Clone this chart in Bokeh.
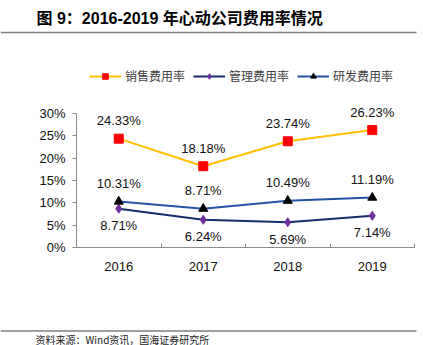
from bokeh.plotting import figure
from bokeh.models import (Range1d, LinearAxis, FixedTicker, PrintfTickFormatter,
                          CustomJSTickFormatter, ColumnDataSource, LabelSet, Label,
                          Legend, LegendItem)
from bokeh.core.properties import value
from bokeh.embed import file_html
from bokeh.resources import INLINE

# ---- data ----
years = ["2016", "2017", "2018", "2019"]
sales_rate = [24.33, 18.18, 23.74, 26.23]
admin_rate = [8.71, 6.24, 5.69, 7.14]
rd_rate = [10.31, 8.71, 10.49, 11.19]
y_ticks = [0, 5, 10, 15, 20, 25, 30]
series_names = ["销售费用率", "管理费用率", "研发费用率"]
title_text = "图 9：2016-2019 年心动公司费用率情况"
source_text = "资料来源：Wind资讯，国海证券研究所"

# ---- layout geometry (pixels) ----
W, H = 423, 345
X0_PX, X_UNIT = 76.0, 84.5      # pixel of category-axis start, pixels per category
Y0_PX, Y_UNIT = 247.3, 4.487    # pixel of 0%, pixels per 1%

def px_x(px):
    return (px - X0_PX) / X_UNIT

def px_y(py):
    return (Y0_PX - py) / Y_UNIT

p = figure(width=W, height=H, output_backend="svg", toolbar_location=None,
           x_range=Range1d(px_x(0), px_x(W)), y_range=Range1d(px_y(H), px_y(0)),
           x_axis_location=None, y_axis_location=None,
           min_border=0, min_border_left=0, min_border_right=0,
           min_border_top=0, min_border_bottom=0)
p.grid.visible = False
p.outline_line_color = None
p.background_fill_color = "white"
p.border_fill_color = "white"

NUM_FONT = "Liberation Sans"
CJK_FONT = "Noto Sans CJK SC"
AXIS_GREY = "#8c8c8c"

n = len(years)
xs = [i + 0.5 for i in range(n)]

# y axis
yax = LinearAxis(fixed_location=0, bounds=(y_ticks[0], y_ticks[-1]),
                 ticker=FixedTicker(ticks=y_ticks, minor_ticks=[]),
                 formatter=PrintfTickFormatter(format="%d%%"))
yax.axis_line_color = AXIS_GREY
yax.major_tick_line_color = AXIS_GREY
yax.major_tick_out = 4
yax.major_tick_in = 0
yax.minor_tick_line_color = None
yax.major_label_text_font = NUM_FONT
yax.major_label_text_font_size = "13px"
yax.major_label_text_color = "#111111"
yax.major_label_standoff = 7
p.add_layout(yax, "left")

# x axis: boundary ticks
xax = LinearAxis(fixed_location=0, bounds=(0, n),
                 ticker=FixedTicker(ticks=list(range(n + 1)), minor_ticks=[]))
xax.axis_line_color = AXIS_GREY
xax.major_tick_line_color = AXIS_GREY
xax.major_tick_in = 4
xax.major_tick_out = 0
xax.minor_tick_line_color = None
xax.major_label_text_alpha = 0
xax.major_label_text_font_size = "1px"
p.add_layout(xax, "below")

# x axis: category labels
xlab = LinearAxis(fixed_location=0,
                  ticker=FixedTicker(ticks=xs, minor_ticks=[]),
                  formatter=CustomJSTickFormatter(args=dict(cats=years),
                                                  code="return cats[Math.floor(tick)];"))
xlab.axis_line_color = None
xlab.major_tick_line_color = None
xlab.minor_tick_line_color = None
xlab.major_label_text_font = NUM_FONT
xlab.major_label_text_font_size = "13px"
xlab.major_label_text_color = "#111111"
xlab.major_label_standoff = 8
p.add_layout(xlab, "below")

# series
def fmt(vals):
    return ["%.2f%%" % v for v in vals]

src_s = ColumnDataSource(dict(x=xs, y=sales_rate, t=fmt(sales_rate)))
src_a = ColumnDataSource(dict(x=xs, y=admin_rate, t=fmt(admin_rate)))
src_r = ColumnDataSource(dict(x=xs, y=rd_rate, t=fmt(rd_rate)))

l_s = p.line("x", "y", source=src_s, line_color="#FFC000", line_width=2)
m_s = p.scatter("x", "y", source=src_s, marker="square", size=9,
                fill_color="#FF0000", line_color="#FF0000")
l_a = p.line("x", "y", source=src_a, line_color="#172d6b", line_width=2)
m_a = p.scatter("x", "y", source=src_a, marker="diamond", size=9,
                fill_color="#7030A0", line_color="#7030A0")
l_r = p.line("x", "y", source=src_r, line_color="#2452a8", line_width=2)
m_r = p.scatter("x", "y", source=src_r, marker="triangle", size=9,
                fill_color="#000000", line_color="#000000")

for src, off in ((src_s, 18), (src_r, 18), (src_a, -17)):
    p.add_layout(LabelSet(x="x", y="y", text="t", source=src, y_offset=off,
                          text_align="center", text_baseline="middle",
                          text_font=value(NUM_FONT), text_font_size="13px",
                          text_color="#111111"))

legend = Legend(items=[LegendItem(label=series_names[0], renderers=[l_s, m_s]),
                       LegendItem(label=series_names[1], renderers=[l_a, m_a]),
                       LegendItem(label=series_names[2], renderers=[l_r, m_r])],
                orientation="horizontal", location=(89, H - 84),
                glyph_width=32, glyph_height=14, label_height=14,
                label_standoff=4, spacing=8, padding=0, margin=0,
                border_line_color=None, background_fill_alpha=0,
                label_text_font=CJK_FONT, label_text_font_size="12px",
                label_text_color="#404040")
p.add_layout(legend, "center")

# title, rules, source
p.add_layout(Label(x=px_x(36), y=px_y(18), text=title_text,
                   text_font="Liberation Sans, Noto Sans CJK SC",
                   text_font_style="bold", text_font_size="16px",
                   text_baseline="middle", text_color="#000000"))
p.segment(x0=[px_x(0)], y0=[px_y(32)], x1=[px_x(416)], y1=[px_y(32)],
          line_color="#7f7f7f", line_width=1.5)
p.segment(x0=[px_x(0)], y0=[px_y(330.5)], x1=[px_x(416)], y1=[px_y(330.5)],
          line_color="#404040", line_width=1.2)
p.add_layout(Label(x=px_x(35), y=px_y(338.5), text=source_text,
                   text_font=CJK_FONT, text_font_size="10px",
                   text_baseline="middle", text_color="#222222"))

open("out.html", "w").write(file_html(p, INLINE))
